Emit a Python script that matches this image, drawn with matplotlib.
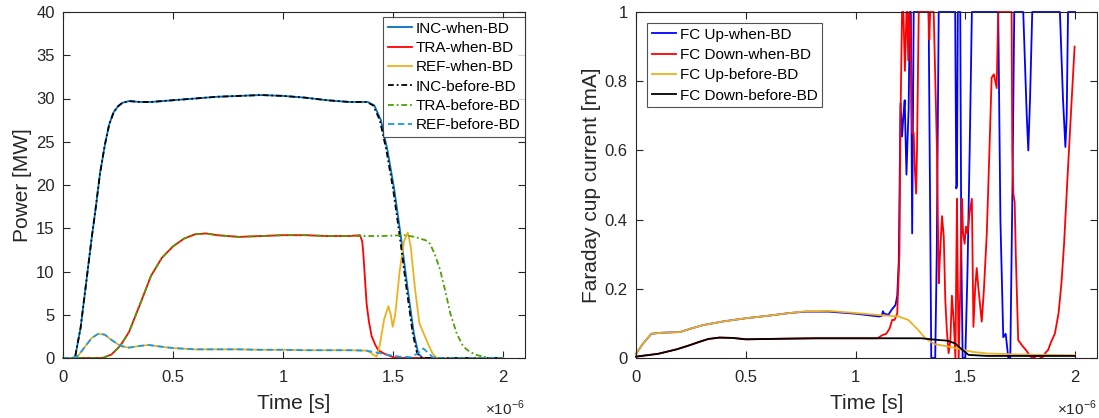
import matplotlib
matplotlib.use("Agg")
import matplotlib.pyplot as plt
from matplotlib.ticker import FuncFormatter
import numpy as np

plt.rcParams['font.family'] = ['Liberation Sans', 'DejaVu Sans']
plt.rcParams['mathtext.fontset'] = 'custom'
plt.rcParams['mathtext.rm'] = 'Liberation Sans'

US = 1e-6

# ---------------- Left chart: Power [MW] ----------------
t_inc_before = [0, 0.04, 0.055, 0.08, 0.1, 0.13, 0.15, 0.168, 0.19, 0.21, 0.23, 0.25, 0.27, 0.3, 0.35, 0.4,
                0.5, 0.6, 0.7, 0.8, 0.9, 1.0, 1.1, 1.2, 1.3, 1.38, 1.41, 1.44, 1.47, 1.5, 1.53, 1.56,
                1.59, 1.61, 1.63, 1.7, 1.8, 1.9, 2.0]
inc_before = [0, 0, 0.1, 3.5, 7.6, 13.8, 17.6, 21.3, 24.6, 27.0, 28.4, 29.1, 29.5, 29.7, 29.6, 29.6,
              29.8, 30.0, 30.2, 30.3, 30.4, 30.3, 30.1, 29.8, 29.6, 29.6, 29.2, 27.5, 24.0, 19.6, 14.2, 8.3,
              2.8, 0.5, 0, 0, 0, 0, 0]
t_inc_when = [0, 0.04, 0.055, 0.08, 0.1, 0.13, 0.15, 0.168, 0.19, 0.21, 0.23, 0.25, 0.27, 0.3, 0.35, 0.4,
              0.5, 0.6, 0.7, 0.8, 0.9, 1.0, 1.1, 1.2, 1.3, 1.385, 1.415, 1.445, 1.475, 1.505, 1.535, 1.565,
              1.595, 1.615, 1.635, 1.7, 1.8, 1.9, 2.0]
inc_when = inc_before

t_tra_when = [0, 0.18, 0.22, 0.26, 0.3, 0.35, 0.4, 0.45, 0.5, 0.55, 0.6, 0.65, 0.7, 0.8, 0.9, 1.0,
              1.1, 1.2, 1.3, 1.35, 1.36, 1.365, 1.38, 1.39, 1.403, 1.42, 1.433, 1.46, 1.49, 1.51, 2.0]
tra_when = [0, 0, 0.4, 1.4, 3.0, 6.2, 9.5, 11.6, 12.9, 13.8, 14.3, 14.4, 14.2, 14.0, 14.1, 14.2,
            14.2, 14.1, 14.1, 14.2, 13.5, 12.1, 6.3, 4.3, 2.5, 1.5, 0.9, 0.5, 0.2, 0, 0]
t_tra_before = [0, 0.18, 0.22, 0.26, 0.3, 0.35, 0.4, 0.45, 0.5, 0.55, 0.6, 0.65, 0.7, 0.8, 0.9, 1.0,
                1.1, 1.2, 1.3, 1.35, 1.45, 1.55, 1.6, 1.623, 1.65, 1.668, 1.69, 1.714, 1.74, 1.76,
                1.79, 1.82, 1.85, 1.88, 1.92, 1.95, 2.0]
tra_before = [0, 0, 0.4, 1.4, 3.0, 6.2, 9.5, 11.6, 12.9, 13.8, 14.3, 14.4, 14.2, 14.0, 14.1, 14.2,
              14.2, 14.1, 14.1, 14.1, 14.1, 14.2, 14.0, 13.8, 13.6, 13.2, 12.0, 10.2, 7.5, 5.2,
              2.8, 1.3, 0.7, 0.35, 0.1, 0, 0]

t_ref_before = [0, 0.05, 0.07, 0.1, 0.13, 0.16, 0.19, 0.22, 0.26, 0.3, 0.35, 0.39, 0.45, 0.5, 0.6, 0.7,
                0.8, 0.9, 1.0, 1.1, 1.2, 1.3, 1.38, 1.43, 1.48, 1.53, 1.58, 1.61, 1.638, 1.66, 1.68,
                1.72, 2.0]
ref_before = [0, 0, 0.3, 1.3, 2.3, 2.8, 2.7, 2.1, 1.4, 1.2, 1.4, 1.5, 1.3, 1.15, 1.0, 1.0,
              1.0, 0.95, 0.95, 0.9, 0.9, 0.9, 0.85, 0.6, 0.35, 0.15, 0.1, 0.5, 1.1, 0.6, 0.1,
              0, 0]
t_ref_when = [0, 0.05, 0.07, 0.1, 0.13, 0.16, 0.19, 0.22, 0.26, 0.3, 0.35, 0.39, 0.45, 0.5, 0.6, 0.7,
              0.8, 0.9, 1.0, 1.1, 1.2, 1.3, 1.38, 1.40, 1.415, 1.426, 1.44, 1.46, 1.479, 1.49, 1.499,
              1.51, 1.53, 1.55, 1.567, 1.58, 1.6, 1.62, 1.645, 1.66, 1.68, 1.70, 2.0]
ref_when = [0, 0, 0.3, 1.3, 2.3, 2.8, 2.7, 2.1, 1.4, 1.2, 1.4, 1.5, 1.3, 1.15, 1.0, 1.0,
            1.0, 0.95, 0.95, 0.9, 0.9, 0.9, 0.85, 0.6, 0.3, 0.15, 1.5, 4.5, 6.0, 5.0, 3.6,
            5.0, 10.0, 13.5, 14.5, 13.0, 8.0, 4.0, 2.5, 1.6, 0.5, 0, 0]

# ---------------- Right chart: Faraday cup current [mA] ----------------
t_up_before = [0, 0.03, 0.07, 0.116, 0.2, 0.25, 0.305, 0.4, 0.502, 0.6, 0.7, 0.774, 0.88, 1.0, 1.107,
               1.197, 1.24, 1.28, 1.318, 1.36, 1.424, 1.48, 1.53, 1.6, 1.75, 1.9, 2.0]
up_before = [0.012, 0.04, 0.07, 0.073, 0.075, 0.085, 0.095, 0.106, 0.115, 0.122, 0.13, 0.135, 0.136,
             0.13, 0.124, 0.12, 0.11, 0.085, 0.057, 0.04, 0.033, 0.025, 0.018, 0.013, 0.01, 0.009, 0.008]

t_down_before = [0, 0.1, 0.185, 0.24, 0.29, 0.33, 0.38, 0.44, 0.5, 0.6, 0.7, 0.82, 1.0, 1.1, 1.2,
                 1.3, 1.379, 1.42, 1.454, 1.484, 1.515, 1.6, 2.0]
down_before = [0.004, 0.012, 0.025, 0.036, 0.047, 0.055, 0.059, 0.058, 0.054, 0.055, 0.056, 0.057,
               0.057, 0.057, 0.057, 0.057, 0.052, 0.05, 0.042, 0.025, 0.009, 0.006, 0.006]

t_up_when = [0, 0.03, 0.07, 0.116, 0.2, 0.25, 0.305, 0.4, 0.502, 0.6, 0.7, 0.774, 0.88, 1.0, 1.107,
             1.12, 1.125, 1.13, 1.15, 1.165, 1.182, 1.19, 1.197, 1.205, 1.212, 1.218, 1.224, 1.232,
             1.238, 1.242, 1.247, 1.252, 1.258, 1.265, 1.333, 1.345, 1.363, 1.37, 1.379, 1.454,
             1.459, 1.462, 1.466, 1.477, 1.482, 1.488, 1.5, 1.51, 1.52, 1.53, 1.65, 1.66, 1.673,
             1.684, 1.696, 1.705, 1.715, 1.723, 1.764, 1.78, 1.787, 1.795, 1.805, 1.931, 1.945,
             1.956, 1.962, 1.968, 2.0]
up_when = [0.012, 0.04, 0.07, 0.073, 0.075, 0.085, 0.095, 0.106, 0.115, 0.122, 0.13, 0.134, 0.134,
           0.128, 0.12, 0.122, 0.135, 0.128, 0.125, 0.14, 0.153, 0.18, 0.28, 0.736, 0.64, 0.7, 0.745,
           0.53, 0.65, 0.72, 1.0, 1.0, 0.36, 1.0, 1.0, 0.0, 0.0, 0.3, 1.0, 1.0,
           0.49, 0.5, 1.0, 1.0, 0.3, 0.0, 0.0, 0.25, 0.6, 1.0, 1.0, 0.4, 0.06,
           0.07, 0.0, 0.0, 0.5, 1.0, 1.0, 0.7, 0.6, 0.75, 1.0, 1.0, 0.75,
           0.61, 0.7, 1.0, 1.0]

t_down_when = [0, 0.1, 0.185, 0.24, 0.29, 0.33, 0.38, 0.44, 0.5, 0.6, 0.7, 0.82, 1.0, 1.1,
               1.122, 1.14, 1.155, 1.167, 1.178, 1.19, 1.2, 1.205, 1.212, 1.218, 1.225, 1.232, 1.236,
               1.24, 1.245, 1.25, 1.258, 1.265, 1.27, 1.276, 1.28, 1.288, 1.333, 1.336, 1.34, 1.356,
               1.371, 1.379, 1.385, 1.394, 1.402, 1.409, 1.416, 1.424, 1.432, 1.439, 1.448, 1.455,
               1.462, 1.466, 1.47, 1.477, 1.485, 1.49, 1.497, 1.503, 1.51, 1.52, 1.53, 1.537, 1.545,
               1.552, 1.56, 1.575, 1.585, 1.598, 1.61, 1.62, 1.63, 1.643, 1.65, 1.711, 1.714, 1.719,
               1.725, 1.73, 1.741, 1.76, 1.78, 1.795, 1.81, 1.83, 1.85, 1.865, 1.877, 1.89, 1.908,
               1.925, 1.938, 1.95, 1.968, 1.985, 1.998]
down_when = [0.004, 0.012, 0.025, 0.036, 0.047, 0.055, 0.059, 0.058, 0.054, 0.055, 0.056, 0.057,
             0.057, 0.057, 0.066, 0.07, 0.085, 0.11, 0.11, 0.129, 0.3, 0.7, 1.0, 1.0, 0.83, 1.0, 1.0,
             0.86, 1.0, 0.95, 0.65, 0.65, 0.55, 0.475, 0.6, 1.0, 1.0, 0.92, 1.0, 1.0,
             0.6, 0.216, 0.3, 0.41, 0.35, 0.168, 0.08, 0.014, 0.05, 0.18, 0.1, 0.0,
             0.46, 0.2, 0.0, 0.2, 0.46, 0.36, 0.33, 0.38, 0.36, 0.42, 0.46, 0.09, 0.2,
             0.26, 0.2, 0.105, 0.2, 0.36, 0.6, 0.81, 0.82, 0.78, 1.0, 1.0, 0.6, 0.475,
             0.45, 0.3, 0.052, 0.035, 0.02, 0.005, 0.0, 0.008, 0.0, 0.015, 0.023, 0.045, 0.07,
             0.13, 0.216, 0.33, 0.55, 0.75, 0.9]

x_ticks = [0, 0.5, 1, 1.5, 2]
left_yticks = [0, 5, 10, 15, 20, 25, 30, 35, 40]
right_yticks = [0, 0.2, 0.4, 0.6, 0.8, 1]

C_INC = '#0072BD'
C_TRA = '#FF0000'
C_REF = '#EDB120'
C_TRA_B = '#4DA000'
C_REF_B = '#1A9BE8'
AX_COL = '#262626'


def us(a):
    return np.asarray(a) * US


fig = plt.figure(figsize=(10.99, 4.18), dpi=100)
axL = fig.add_axes([63 / 1099, 1 - 358 / 418, 462 / 1099, 346 / 418])
axR = fig.add_axes([636 / 1099, 1 - 358 / 418, 461 / 1099, 346 / 418])

lw = 1.3
dashdot = (0, (3.2, 1.6, 1, 1.6))
axL.plot(us(t_inc_when), inc_when, color=C_INC, lw=lw, label='INC-when-BD', clip_on=False)
axL.plot(us(t_tra_when), tra_when, color=C_TRA, lw=lw, label='TRA-when-BD', clip_on=False)
axL.plot(us(t_ref_when), ref_when, color=C_REF, lw=lw, label='REF-when-BD', clip_on=False)
axL.plot(us(t_inc_before), inc_before, color='black', lw=lw, ls=dashdot, label='INC-before-BD', clip_on=False)
axL.plot(us(t_tra_before), tra_before, color=C_TRA_B, lw=lw, ls=dashdot, label='TRA-before-BD', clip_on=False)
axL.plot(us(t_ref_before), ref_before, color=C_REF_B, lw=lw, ls=(0, (3.5, 2)), label='REF-before-BD', clip_on=False)

axR.plot(us(t_up_when), up_when, color='#0000FF', lw=lw, label='FC Up-when-BD', clip_on=False)
axR.plot(us(t_down_when), down_when, color=C_TRA, lw=lw, label='FC Down-when-BD', clip_on=False)
axR.plot(us(t_up_before), up_before, color=C_REF, lw=lw, label='FC Up-before-BD', clip_on=False)
axR.plot(us(t_down_before), down_before, color='black', lw=lw, label='FC Down-before-BD', clip_on=False)

fmt_x = FuncFormatter(lambda v, p: ('%g' % round(v / US, 6)))
fmt_y = FuncFormatter(lambda v, p: ('%g' % round(v, 6)))

for ax, yt, ylim, ylabel in [(axL, left_yticks, (0, 40), 'Power [MW]'),
                             (axR, right_yticks, (0, 1), 'Faraday cup current [mA]')]:
    ax.set_xlim(0, 2.1e-6)
    ax.set_ylim(*ylim)
    ax.set_xticks(us(x_ticks))
    ax.set_yticks(yt)
    ax.xaxis.set_major_formatter(fmt_x)
    ax.yaxis.set_major_formatter(fmt_y)
    ax.tick_params(direction='in', top=True, right=True, labelsize=12, colors=AX_COL,
                   length=5, width=0.8)
    ax.tick_params(axis='x', pad=9)
    ax.tick_params(axis='y', pad=6)
    for s in ax.spines.values():
        s.set_color(AX_COL)
        s.set_linewidth(0.8)
    ax.set_xlabel('Time [s]', fontsize=15, color=AX_COL)
    ax.set_ylabel(ylabel, fontsize=15, color=AX_COL)
    ax.xaxis.set_label_coords(0.5, -0.105, transform=ax.transAxes)
    ax.xaxis.label.set_va('top')
    ax.text(1.0, -0.118, r'$\times10^{-6}$', transform=ax.transAxes, ha='right', va='top',
            fontsize=11, color=AX_COL)

axL.yaxis.set_label_coords(-0.067, 0.5, transform=axL.transAxes)
axR.yaxis.set_label_coords(-0.076, 0.5, transform=axR.transAxes)

legL = axL.legend(loc='upper right', bbox_to_anchor=(1.0, 1 - 5 / 346), fontsize=11, frameon=True,
                  fancybox=False, borderaxespad=0.0, handlelength=1.6, handletextpad=0.2,
                  labelspacing=0.35, borderpad=0.3)
legR = axR.legend(loc='upper left', bbox_to_anchor=(11 / 461, 1 - 11 / 346), fontsize=11, frameon=True,
                  fancybox=False, borderaxespad=0.0, handlelength=1.6, handletextpad=0.25,
                  labelspacing=0.42, borderpad=0.3)
for leg in (legL, legR):
    leg.get_frame().set_edgecolor(AX_COL)
    leg.get_frame().set_linewidth(0.8)

fig.savefig('out.png', dpi=100)
